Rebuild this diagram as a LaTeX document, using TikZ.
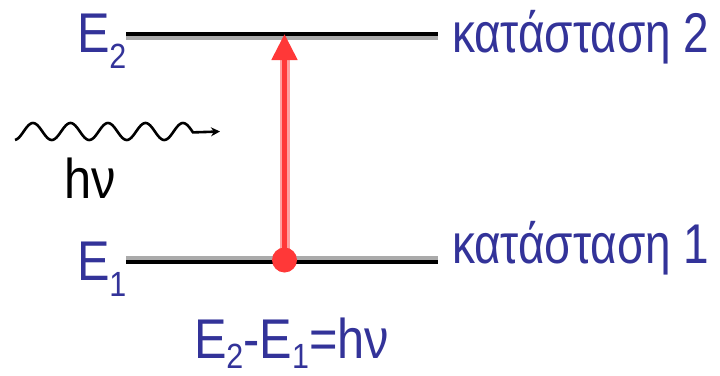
\documentclass[tikz,border=0pt]{standalone}
\usepackage{fontspec}
\setmainfont{Liberation Sans}[FakeStretch=0.87]
\newfontfamily\narrowfont{Liberation Sans}[FakeStretch=0.82]
\usetikzlibrary{arrows.meta}
\definecolor{txtblue}{HTML}{333399}
\definecolor{lred}{HTML}{FF3838}
\definecolor{halo}{HTML}{FFA0A0}
\definecolor{lgray}{HTML}{AAAAAA}
\newcommand{\subx}[2][16pt]{\raisebox{-#1}{\fontsize{35}{35}\selectfont #2}}
\begin{document}
\begin{tikzpicture}[x=1pt,y=-1pt,
  every node/.style={inner sep=0pt, outer sep=0pt, font=\fontsize{56}{60}\selectfont},
  lbl/.style={text=txtblue, anchor=base west},
  state/.style={lbl, font=\narrowfont\fontsize{56}{60}\selectfont},
  level/.style={line width=4pt, black},
  shade/.style={line width=4pt, lgray}]
\useasboundingbox (0,0) rectangle (720,375);
% energy levels
\coordinate (t1) at (126,34);
\coordinate (t2) at (438,34);
\coordinate (b1) at (126,262);
\coordinate (b2) at (438,262);
\draw[shade] ([yshift=-4pt]t1) -- ([yshift=-4pt]t2);
\draw[level] (t1) -- (t2);
\draw[shade] ([yshift=4pt]b1) -- ([yshift=4pt]b2);
\draw[level] (b1) -- (b2);
% transition arrow
\coordinate (start) at (284.5,260);
\coordinate (tip) at (284.5,34);
\coordinate (tipbase) at (284.5,60);
\draw[halo, line width=10pt] (start) -- (tipbase);
\draw[lred, line width=5pt, -{Triangle[width=25pt,length=26pt]}] (start) -- (tip);
\node[circle, fill=lred, minimum size=25pt] (dot) at (start) {};
% photon
\coordinate (wend) at (220,131.5);
\draw[line width=2.6pt, -{Stealth[length=9pt,width=9pt]}]
  plot[domain=15:193, samples=160, smooth] (\x, {131.5-8.5*cos(9.6*(\x-33))}) -- (wend);
% labels
\node[lbl] (e2) at (77,52) {E\subx{2}};
\node[lbl] (e1) at (77,280) {E\subx{1}};
\node[state] (s2) at (452,52) {κατάσταση 2};
\node[state] (s1) at (452,263) {κατάσταση 1};
\node[anchor=base west] (hv) at (64,198) {hν};
\node[lbl] (f) at (194,358) {E\subx[10pt]{2}-E\subx[10pt]{1}=hν};
\end{tikzpicture}
\end{document}
